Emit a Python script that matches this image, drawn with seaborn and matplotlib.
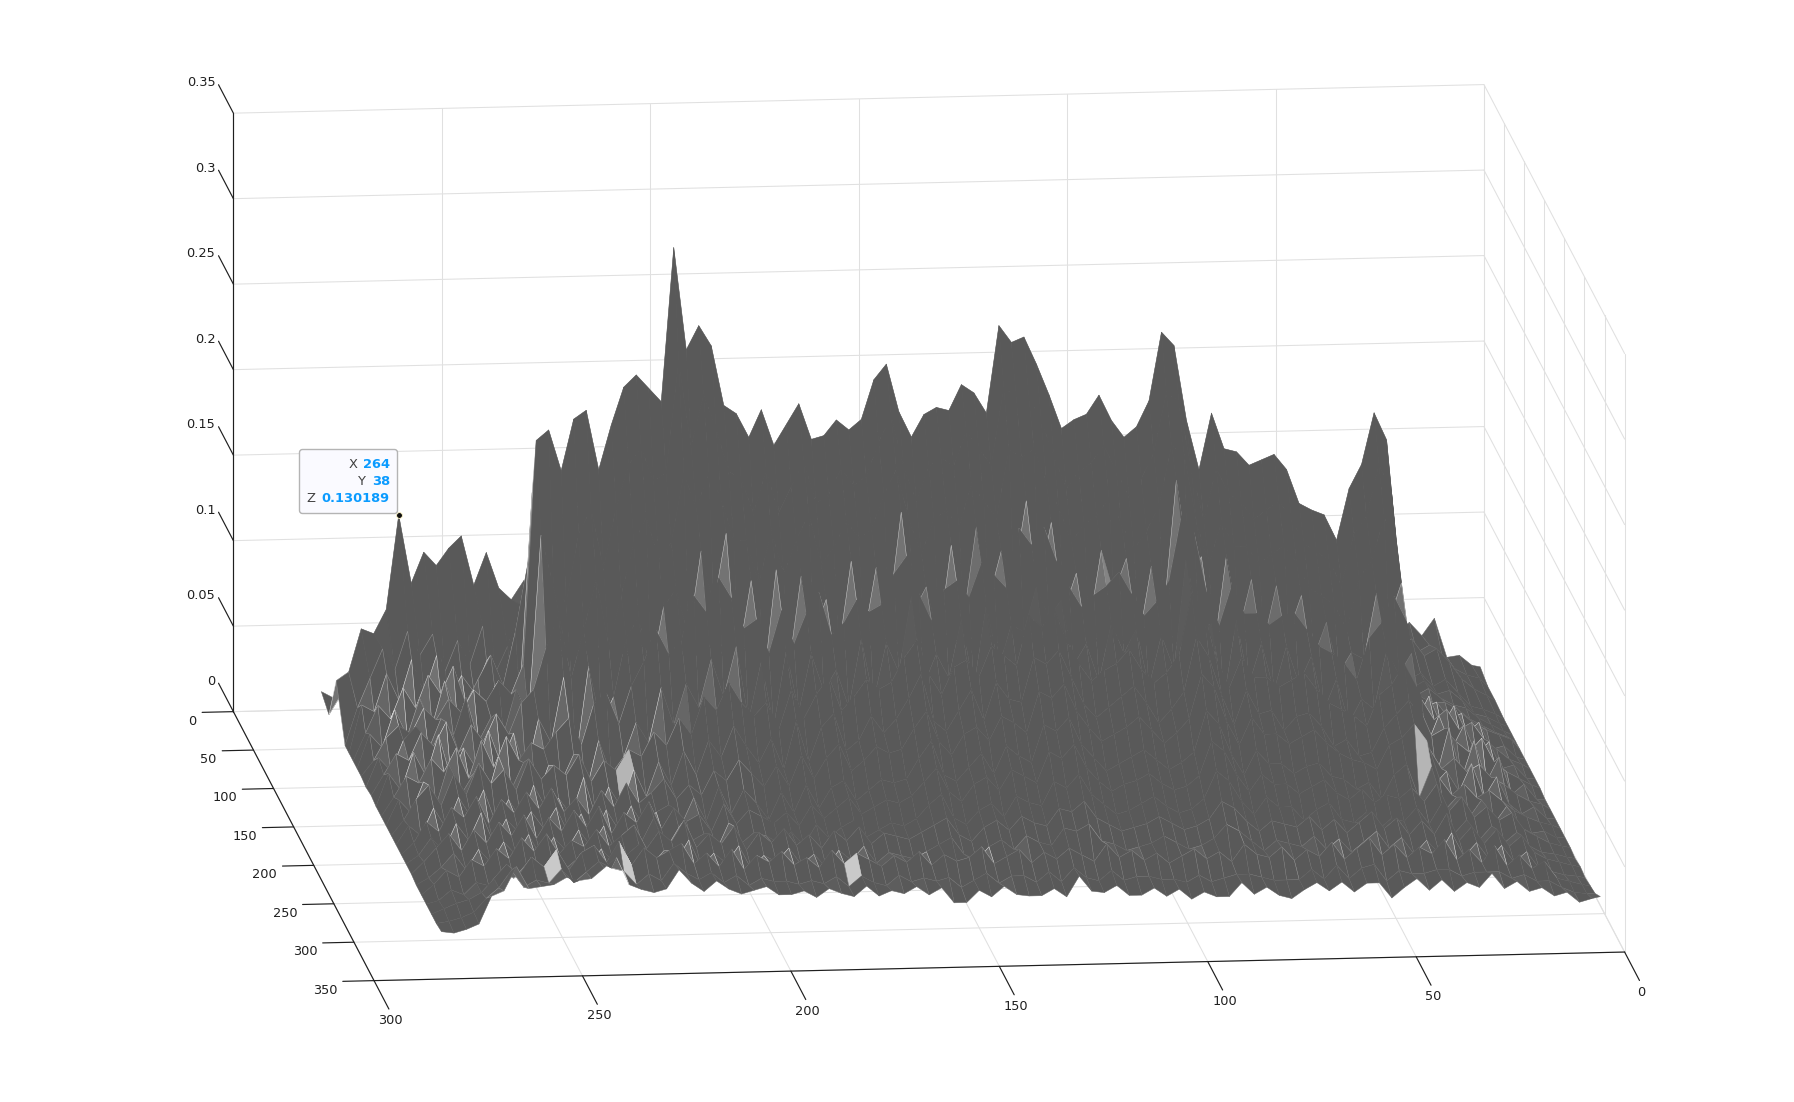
import numpy as np
import matplotlib
matplotlib.use("Agg")
import matplotlib.pyplot as plt
from matplotlib.patches import FancyBboxPatch
from mpl_toolkits.mplot3d import proj3d
import seaborn as sns

# z in thousandths, columns run from x=279 down to x=1
x_vals = list(range(279, 2, -3)) + [1]
y_vals = [1, 20, 38, 60, 70, 80, 90, 100, 112, 125, 137, 150, 162, 175, 187, 200,
          212, 225, 237, 250, 262, 275, 287, 300]

z_y001 = [11,7,9,14,10,16,12,18,14,20,
          15,22,18,24,19,26,21,28,24,30,
          26,32,27,35,29,38,31,36,28,33,
          27,34,29,36,30,32,27,35,28,33,
          26,31,28,36,30,34,27,33,29,35,
          28,32,26,34,29,36,30,33,27,31,
          28,34,30,36,29,33,27,31,28,35,
          30,33,27,32,29,36,31,34,28,33,
          29,35,30,33,28,34,30,37,29,39,
          16,17,11,10]
z_y020 = [6,18,24,20,32,26,38,30,44,36,
          50,40,46,36,52,42,48,38,50,44,
          40,50,36,46,38,52,42,48,36,44,
          38,46,34,42,36,48,40,44,34,46,
          36,44,38,50,40,46,34,42,38,48,
          40,46,36,44,34,48,38,42,36,46,
          38,44,34,42,36,48,40,46,34,42,
          36,44,38,46,34,42,36,48,40,44,
          34,42,38,46,36,30,34,28,32,26,
          18,14,12,7]
z_y038 = [34,39,64,61,75,130.189,90,108,100,110,
          117,88,107,86,79,90,70,82,64,76,
          60,84,68,92,74,80,62,88,70,78,
          58,84,66,90,72,76,60,86,68,80,
          62,88,70,94,64,82,72,86,58,78,
          66,90,74,82,60,84,70,88,64,76,
          68,92,62,80,72,86,58,78,66,84,
          60,76,68,82,56,74,64,80,58,72,
          62,74,56,68,48,40,44,34,38,30,
          20,14,10,7]
z_y060 = [6,28,45,62,50,72,58,70,48,66,
          52,74,46,62,86,70,92,64,88,72,
          96,82,108,90,112,94,120,100,114,88,
          102,84,110,92,106,86,112,90,104,96,
          100,118,92,110,84,108,96,114,90,106,
          98,120,104,112,88,106,92,110,86,102,
          94,84,100,90,108,96,86,78,92,82,
          88,74,84,70,80,66,72,62,70,58,
          72,56,66,48,36,30,34,26,30,22,
          14,12,9,6]
z_y070 = [6,34,30,52,36,60,40,62,36,50,
          40,58,38,50,90,60,100,72,110,80,
          110,110,130,100,120,130,140,120,130,100,
          120,95,125,100,115,105,120,100,120,105,
          115,130,115,120,95,120,110,120,110,120,
          110,135,125,130,105,120,100,120,100,120,
          110,95,115,105,130,120,100,90,110,95,
          100,85,95,85,90,75,80,70,72,70,
          85,70,80,55,36,30,34,26,28,22,
          14,12,8,6]
z_y080 = [6,22,38,30,48,36,55,44,60,38,
          52,66,48,80,120,96,130,110,140,116,
          140,170,160,150,145,210,170,190,175,150,
          150,130,155,130,145,160,135,140,150,140,
          150,170,180,145,130,150,155,145,165,155,
          150,190,180,185,165,150,135,150,145,160,
          145,130,150,155,190,180,140,120,150,130,
          130,120,125,130,115,100,95,95,85,110,
          125,150,130,70,38,30,34,28,24,22,
          16,12,8,6]
z_y090 = [6,26,18,40,24,46,30,56,34,44,
          32,52,40,46,165,120,150,150,160,130,
          160,190,190,170,170,240,200,220,200,170,
          175,150,180,150,170,180,155,160,175,160,
          170,190,200,170,150,170,175,170,190,175,
          170,210,200,205,190,170,155,170,165,180,
          165,150,165,180,210,200,160,135,170,150,
          150,140,140,150,135,120,115,110,100,130,
          145,170,155,85,36,34,30,30,26,20,
          16,12,9,6]
z_y100 = [6,15,28,35,30,45,38,50,42,55,
          48,60,52,70,200,206,182,212,217,182,
          208,230,237,229,221,311,251,265,253,218,
          213,199,215,194,206,218,197,199,208,202,
          208,231,240,212,197,210,214,212,227,222,
          210,261,251,254,238,220,200,205,208,219,
          204,194,200,215,255,247,203,174,207,186,
          184,176,179,182,173,153,149,146,131,161,
          175,205,189,101,40,32,35,25,28,22,
          18,15,12,6]
z_y112 = [5,22,14,32,40,26,44,34,56,30,
          44,34,60,44,150,120,110,150,165,130,
          165,190,200,180,185,250,200,230,210,185,
          180,160,185,160,175,190,165,170,185,175,
          180,200,215,185,165,185,190,185,205,195,
          185,230,225,225,210,190,170,180,185,195,
          180,165,175,190,225,220,180,150,180,165,
          160,150,155,160,150,135,130,125,110,140,
          150,180,165,85,30,44,26,38,22,28,
          12,14,7,6]
z_y125 = [6,18,30,26,42,34,48,30,46,36,
          52,40,58,66,90,110,72,100,130,90,
          120,150,165,140,150,190,170,190,175,150,
          150,125,155,130,150,165,135,145,160,150,
          155,175,190,160,140,160,165,155,180,170,
          160,200,195,200,180,165,145,155,160,170,
          155,140,150,165,200,195,155,130,155,140,
          140,130,135,140,130,115,110,105,90,120,
          130,155,140,70,48,36,42,30,34,24,
          18,12,9,6]
z_y137 = [5,24,14,36,22,46,20,38,26,48,
          28,46,22,54,40,78,30,84,50,66,
          100,112,80,118,128,100,150,118,160,88,
          132,72,138,80,134,100,120,90,142,96,
          138,110,170,112,126,95,150,108,160,118,
          146,130,175,125,162,110,132,100,145,120,
          140,92,135,108,185,125,140,85,140,96,
          126,90,122,95,116,80,100,70,82,78,
          116,100,122,48,26,44,24,38,20,28,
          12,14,6,6]
z_y150 = [5,16,28,24,38,30,44,26,48,32,
          50,36,46,42,52,60,44,68,74,56,
          78,92,110,96,104,130,120,140,128,110,
          115,95,120,100,118,130,105,112,125,118,
          122,140,150,128,112,130,135,125,145,138,
          130,165,155,165,145,130,118,125,130,138,
          125,112,120,132,170,160,125,105,128,112,
          112,105,110,112,102,92,88,82,72,96,
          105,120,105,55,38,42,34,28,36,22,
          16,12,8,6]
z_y162 = [5,20,12,30,16,40,22,34,18,44,
          24,40,18,38,28,44,22,52,32,42,
          62,50,82,60,84,70,98,76,105,62,
          96,58,102,66,100,78,90,68,108,72,
          105,88,132,80,98,84,118,78,126,90,
          114,110,136,118,128,90,102,80,114,96,
          110,76,106,86,152,110,112,68,114,76,
          100,72,98,76,92,60,78,52,66,60,
          94,80,92,32,20,48,18,40,16,30,
          8,14,5,5]
z_y175 = [5,14,26,34,22,40,28,46,34,42,
          30,48,36,44,38,50,34,46,40,52,
          48,62,54,70,60,82,74,90,78,70,
          78,62,85,68,82,92,72,80,90,84,
          88,102,112,92,80,96,100,90,108,102,
          96,125,118,128,110,96,86,92,96,104,
          92,84,90,100,135,125,96,80,98,86,
          86,80,84,88,78,70,66,62,56,74,
          80,92,78,42,30,36,28,32,24,20,
          14,10,8,5]
z_y187 = [5,16,10,26,14,32,20,36,16,30,
          18,38,24,30,20,42,18,36,24,46,
          30,50,36,56,42,62,52,70,58,48,
          62,44,72,48,68,76,54,60,74,64,
          72,84,98,70,64,76,88,70,92,82,
          80,106,102,110,94,78,70,76,82,88,
          78,66,74,84,116,104,82,64,84,70,
          72,60,68,70,62,50,54,44,46,60,
          68,76,66,26,34,22,38,18,30,14,
          8,12,5,5]
z_y200 = [5,12,24,18,32,26,38,22,36,28,
          40,30,42,28,36,26,40,30,44,32,
          38,46,34,42,36,50,44,56,48,40,
          52,40,58,44,56,64,48,54,62,58,
          60,72,82,64,56,68,72,64,78,74,
          68,92,88,96,80,70,62,66,70,76,
          68,60,66,74,100,92,72,58,74,64,
          64,58,62,66,58,52,48,46,42,56,
          60,68,58,36,26,32,24,28,22,16,
          12,9,7,5]
z_y212 = [5,10,20,12,28,18,34,16,30,22,
          34,24,36,20,32,18,34,22,36,24,
          32,36,24,40,26,46,30,44,36,26,
          42,30,46,32,44,48,36,42,48,46,
          48,60,70,50,46,54,62,50,66,60,
          56,78,74,82,66,58,50,54,58,62,
          56,50,54,60,84,76,58,46,60,52,
          52,46,50,52,44,42,36,40,30,44,
          50,30,48,22,30,18,28,14,24,12,
          8,9,5,5]
z_y225 = [5,12,20,28,18,30,22,34,26,38,
          24,36,28,40,30,42,26,38,32,44,
          28,40,32,36,26,42,30,38,34,30,
          36,28,40,32,38,44,34,38,42,40,
          44,52,60,46,40,50,54,46,58,54,
          50,68,64,72,58,50,44,48,50,54,
          48,44,46,52,72,66,52,42,52,46,
          46,40,44,48,40,36,42,34,38,36,
          42,34,44,28,36,24,30,22,26,16,
          12,8,6,5]
z_y237 = [4,8,14,22,12,24,16,28,20,32,
          18,30,22,34,24,36,20,30,26,40,
          22,34,26,30,20,36,24,30,28,24,
          30,22,34,26,32,36,26,30,34,32,
          36,44,50,36,32,40,44,36,48,44,
          42,56,52,60,48,42,36,38,42,46,
          40,36,38,44,60,54,42,34,44,38,
          38,30,36,40,30,28,34,24,30,28,
          36,26,38,20,28,16,24,14,20,12,
          8,7,5,4]
z_y250 = [4,10,18,14,24,20,30,24,36,28,
          38,26,34,30,40,30,36,42,28,38,
          32,44,28,36,30,40,26,36,30,38,
          28,34,26,36,30,38,28,34,32,30,
          34,38,42,32,28,36,40,34,42,38,
          36,46,44,50,40,36,32,34,36,40,
          36,32,34,38,48,44,36,30,36,34,
          32,38,30,36,28,34,40,30,36,26,
          34,26,38,22,30,20,28,18,24,14,
          10,8,6,5]
z_y262 = [4,6,12,9,16,14,22,18,26,20,
          30,22,28,24,34,26,30,36,24,32,
          26,38,22,30,24,34,20,28,24,32,
          22,28,20,30,24,32,22,28,26,24,
          28,32,36,26,22,30,34,28,36,32,
          30,40,38,42,32,30,26,28,30,34,
          30,26,28,32,40,36,30,24,30,28,
          26,32,24,30,22,28,34,24,30,20,
          28,20,32,18,26,16,24,14,20,10,
          8,6,5,4]
z_y275 = [4,7,10,12,16,24,32,26,36,30,
          40,28,38,42,32,44,30,40,34,38,
          42,30,36,28,38,26,34,30,36,28,
          32,26,36,28,34,30,26,32,28,34,
          26,32,28,30,36,26,30,34,26,32,
          28,34,30,26,36,28,32,26,30,24,
          28,32,26,30,24,34,28,26,32,24,
          30,26,34,24,30,36,26,32,24,30,
          26,34,22,28,20,30,18,24,16,20,
          10,8,6,5]
z_y287 = [4,5,7,10,18,24,34,24,28,26,
          34,26,32,38,34,32,24,30,26,36,
          30,26,30,24,28,22,26,24,24,22,
          24,22,26,20,26,22,20,26,22,24,
          22,24,18,22,26,20,24,24,20,26,
          20,28,22,20,26,20,22,22,20,20,
          18,22,18,20,22,22,20,18,18,18,
          24,18,26,18,24,26,16,22,20,20,
          22,22,18,20,20,20,16,18,14,14,
          10,7,6,6]
z_y300 = [5,4,6,9,25,28,42,29,30,31,
          35,33,34,40,46,30,27,25,27,38,
          30,25,31,26,23,25,27,22,22,24,
          20,25,22,20,26,20,23,21,25,20,
          24,15,15,22,18,24,19,18,18,22,
          17,29,20,19,23,17,17,21,16,20,
          14,18,15,15,23,16,20,15,13,18,
          22,17,22,16,21,21,12,18,23,16,
          22,15,20,17,25,16,20,14,16,11,
          13,7,9,10]

# the few faces that show up pale in the picture
bright_x = [252, 234, 180, 225, 36, 105]
bright_y = [275, 275, 275, 175, 200, 137]
bright_v = [0.9, 0.9, 0.9, 0.8, 0.8, 0.55]

x_ticks = [0, 50, 100, 150, 200, 250, 300]
y_ticks = [0, 50, 100, 150, 200, 250, 300, 350]
z_ticks = [0, 0.05, 0.1, 0.15, 0.2, 0.25, 0.3, 0.35]
z_labels = ["0", "0.05", "0.1", "0.15", "0.2", "0.25", "0.3", "0.35"]

sns.set_theme(style="white")
plt.rcParams["font.family"] = ["DejaVu Sans"]

TEXT = "#1f1f1f"
GRID = "#e0e0e0"

Z = np.array([z_y001, z_y020, z_y038, z_y060, z_y070, z_y080, z_y090, z_y100,
              z_y112, z_y125, z_y137, z_y150, z_y162, z_y175, z_y187, z_y200,
              z_y212, z_y225, z_y237, z_y250, z_y262, z_y275, z_y287, z_y300]) / 1000
X, Y = np.meshgrid(x_vals, y_vals)

# faces turned away from the viewer catch the light, the rest stay dark
slope = np.zeros_like(Z)
slope[:-1, :] = np.diff(Z, axis=0) / np.diff(y_vals)[:, None]
slope[-1, :] = slope[-2, :]
light = np.clip(slope / 0.0016, 0, 1)
# the foot of the main ridge is a solid dark mass in the picture
foot = (Y >= 162) & (Y <= 240) & (X >= 42) & (X <= 195)
light[foot] *= 0.1
face_light = light * 0.4
# low ground shows thin pale lines
low = (Z < 0.06) & ~foot
edge_light = np.clip(light * 0.9 + low * np.clip(np.abs(slope) / 0.002, 0, 0.6), 0, 1)
for bx, by, bv in zip(bright_x, bright_y, bright_v):
    cell = (y_vals.index(by), x_vals.index(bx))
    face_light[cell] = bv
    edge_light[cell] = bv
gray_map = sns.blend_palette(["#595959", "#7a7a7a", "#dcdcdc"], as_cmap=True)

fig = plt.figure(figsize=(17.94, 11.02), dpi=100)
ax = fig.add_axes([-21 / 1794, -380.6 / 1102, 1850 / 1794, 1850 / 1102],
                  projection="3d", proj_type="ortho", computed_zorder=False)
ax.set_box_aspect((1258, 1294, 612))
ax.view_init(elev=12.07, azim=83.76)
ax.set_xlim(0, 300, view_margin=0)
ax.set_ylim(0, 350, view_margin=0)
ax.set_zlim(0, 0.35, view_margin=0)
ax.set_axis_off()

# walls and floor
for x in x_ticks:
    ax.plot([x, x], [0, 0], [0, 0.35], color=GRID, lw=0.75, zorder=1)
    ax.plot([x, x], [0, 350], [0, 0], color=GRID, lw=0.75, zorder=1)
for y in y_ticks:
    ax.plot([0, 0], [y, y], [0, 0.35], color=GRID, lw=0.75, zorder=1)
    ax.plot([0, 300], [y, y], [0, 0], color=GRID, lw=0.75, zorder=1)
for z in z_ticks:
    ax.plot([0, 300], [0, 0], [z, z], color=GRID, lw=0.75, zorder=1)
    ax.plot([0, 0], [0, 350], [z, z], color=GRID, lw=0.75, zorder=1)

surf = ax.plot_surface(X, Y, Z, facecolors=gray_map(face_light), rstride=1, cstride=1,
                       linewidth=0.35, antialiased=True, shade=False, zorder=2)
surf.set_edgecolors(gray_map(edge_light[:-1, :-1].ravel()))

# axis lines and ticks
ax.plot([300, 300], [0, 0], [0, 0.35], color=TEXT, lw=0.85, zorder=3)
ax.plot([300, 300], [0, 350], [0, 0], color=TEXT, lw=0.85, zorder=3)
ax.plot([0, 300], [350, 350], [0, 0], color=TEXT, lw=0.85, zorder=3)
for x in x_ticks:
    ax.plot([x, x], [350, 387], [0, 0], color=TEXT, lw=0.85, zorder=3)
for y in y_ticks:
    ax.plot([300, 307.5], [y, y], [0, 0], color=TEXT, lw=0.85, zorder=3)
for z in z_ticks:
    ax.plot([300, 300], [0, -37], [z, z], color=TEXT, lw=0.85, zorder=3)

ax.plot([264], [38], [0.130189], "o", ms=4.2, mfc="#111111", mec="#fff6c8", mew=0.6, zorder=5)

# labels and data tip go on a flat layer in pixel coordinates
tip = fig.add_axes([0, 0, 1, 1])
tip.set_xlim(0, 1794)
tip.set_ylim(1102, 0)
tip.axis("off")
ax.apply_aspect()


def to_pixels(x, y, z):
    px, py, _ = proj3d.proj_transform(x, y, z, ax.get_proj())
    return tip.transData.inverted().transform(ax.transData.transform((px, py)))


for x in x_ticks:
    px, py = to_pixels(x + 1, 402, 0)
    tip.text(px, py, str(x), color=TEXT, fontsize=9.3, ha="center", va="center")
for y in y_ticks:
    px, py = to_pixels(308.8, y, -0.005)
    tip.text(px, py, str(y), color=TEXT, fontsize=9.3, ha="right", va="center")
for z, lab in zip(z_ticks, z_labels):
    px, py = to_pixels(300, -45, z - 0.0025)
    tip.text(px, py, lab, color=TEXT, fontsize=9.3, ha="right", va="center")

tip.add_patch(FancyBboxPatch((301, 451), 95, 61, boxstyle="round,pad=1.5,rounding_size=3",
                             fc="#fafaff", ec="#b4b4b4", lw=1))
rows = [("X", "264", 357, 464.5), ("Y", "38", 366, 481.5), ("Z", "0.130189", 315, 498.5)]
for name, val, right, ypos in rows:
    tip.text(right, ypos, name, color="#404040", fontsize=9.4, ha="right", va="center")
    tip.text(390, ypos, val, color="#0a9bff", fontsize=9.4, fontweight="bold", ha="right", va="center")

fig.savefig("out.png", dpi=100)
